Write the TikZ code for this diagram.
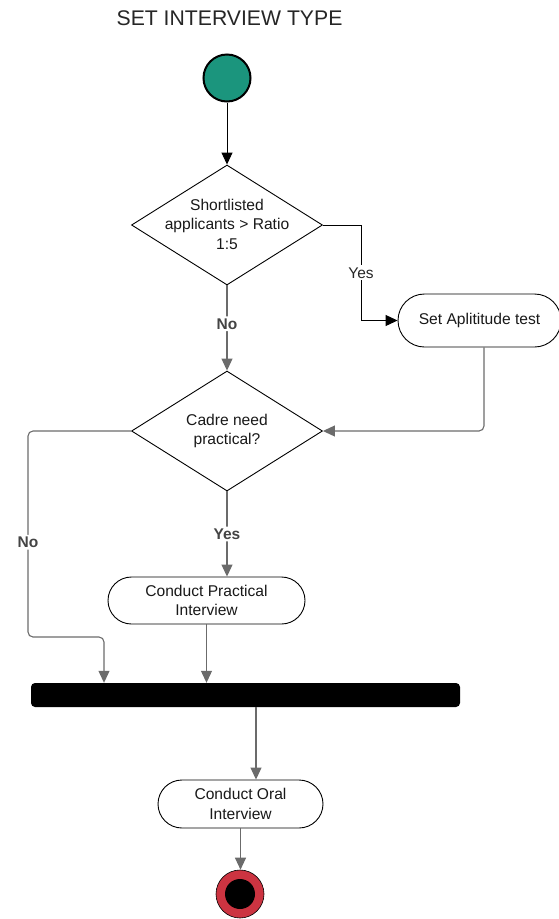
\documentclass[tikz,border=0pt]{standalone}
\usepackage{fontspec}
\setmainfont{Liberation Sans}
\usetikzlibrary{arrows.meta,shapes.geometric,shapes.misc}
\definecolor{tealfill}{HTML}{1B957D}
\definecolor{ringred}{HTML}{CC3441}
\definecolor{lngray}{HTML}{6B6B6B}
\definecolor{lblgray}{HTML}{444444}
\begin{document}
\begin{tikzpicture}[x=1pt,y=-1pt,
  txt/.style={font=\fontsize{15.6}{19.5}\selectfont, align=center, text=black!90},
  act/.style={rounded rectangle, draw=black, line width=0.9pt, fill=white, txt, inner sep=0pt},
  dia/.style={diamond, draw=black, line width=0.9pt, fill=white, minimum width=191pt, minimum height=120pt, inner sep=0pt},
  garr/.style={draw=lngray, line width=1.1pt, -{Triangle[length=12pt,width=11pt]}, rounded corners=5pt},
  barr/.style={draw=black, line width=1pt, -{Triangle[length=12pt,width=11pt]}},
  lbl/.style={fill=white, font=\fontsize{15.5}{17}\selectfont\bfseries, text=lblgray, inner sep=2pt},
  lblb/.style={fill=white, font=\fontsize{15.5}{17}\selectfont, text=black!85, inner sep=2pt},
]
\useasboundingbox (0,0) rectangle (558,919);

\node[text=black!85] (title) at (229.5,18) {\fontsize{21.2}{24}\selectfont SET INTERVIEW TYPE};

\node[circle, draw=black, line width=2pt, fill=tealfill, minimum size=47pt, inner sep=0pt] (start) at (227,78) {};

\node[dia, label={[txt, yshift=1pt]center:Shortlisted\\applicants > Ratio\\1:5}] (d1) at (227,225) {};

\node[act, minimum width=163pt, minimum height=53pt] (sat) at (479.5,320.5) {Set Aplititude test};

\node[dia, label={[txt]center:Cadre need\\practical?}] (d2) at (227,431) {};

\node[act, minimum width=197pt, minimum height=47pt] (cpi) at (206.5,600.5) {Conduct Practical\\Interview};

\node[fill=black, rounded corners=4pt, minimum width=429pt, minimum height=24pt, inner sep=0pt] (bar) at (245.5,695) {};

\node[act, minimum width=165pt, minimum height=48pt] (oral) at (240.5,804) {Conduct Oral\\Interview};

\node[circle, draw=black, line width=0.6pt, fill=ringred, minimum size=48pt, inner sep=0pt] (end) at (240,894) {};
\node[circle, fill=black, minimum size=30pt, inner sep=0pt] (endin) at (end.center) {};

% connectors
\coordinate (yj) at (361,0);
\coordinate (sj) at (484,0);
\coordinate (nx) at (28,0);
\coordinate (ny) at (0,637);
\coordinate (bx) at (104,0);
\coordinate (ox) at (256,0);

\draw[barr] (start.south) -- (d1.north);
\draw[barr] (d1.east) -- (d1.east -| yj) -- node[lblb]{Yes} (yj |- sat.west) -- (sat.west);
\draw[garr] (d1.south) -- node[lbl, pos=0.45]{No} (d2.north);
\draw[garr] (sat.south -| sj) |- (d2.east);
\draw[garr] (d2.west) -- (d2.west -| nx) -- node[lbl, pos=0.54]{No} (nx |- ny) -- (bx |- ny) -- (bx |- bar.north);
\draw[garr] (d2.south) -- node[lbl]{Yes} (d2.south |- cpi.north);
\draw[garr] (cpi.south) -- (cpi.south |- bar.north);
\draw[garr] (ox |- bar.south) -- (ox |- oral.north);
\draw[garr] (oral.south) -- (oral.south |- end.north);
\end{tikzpicture}
\end{document}
